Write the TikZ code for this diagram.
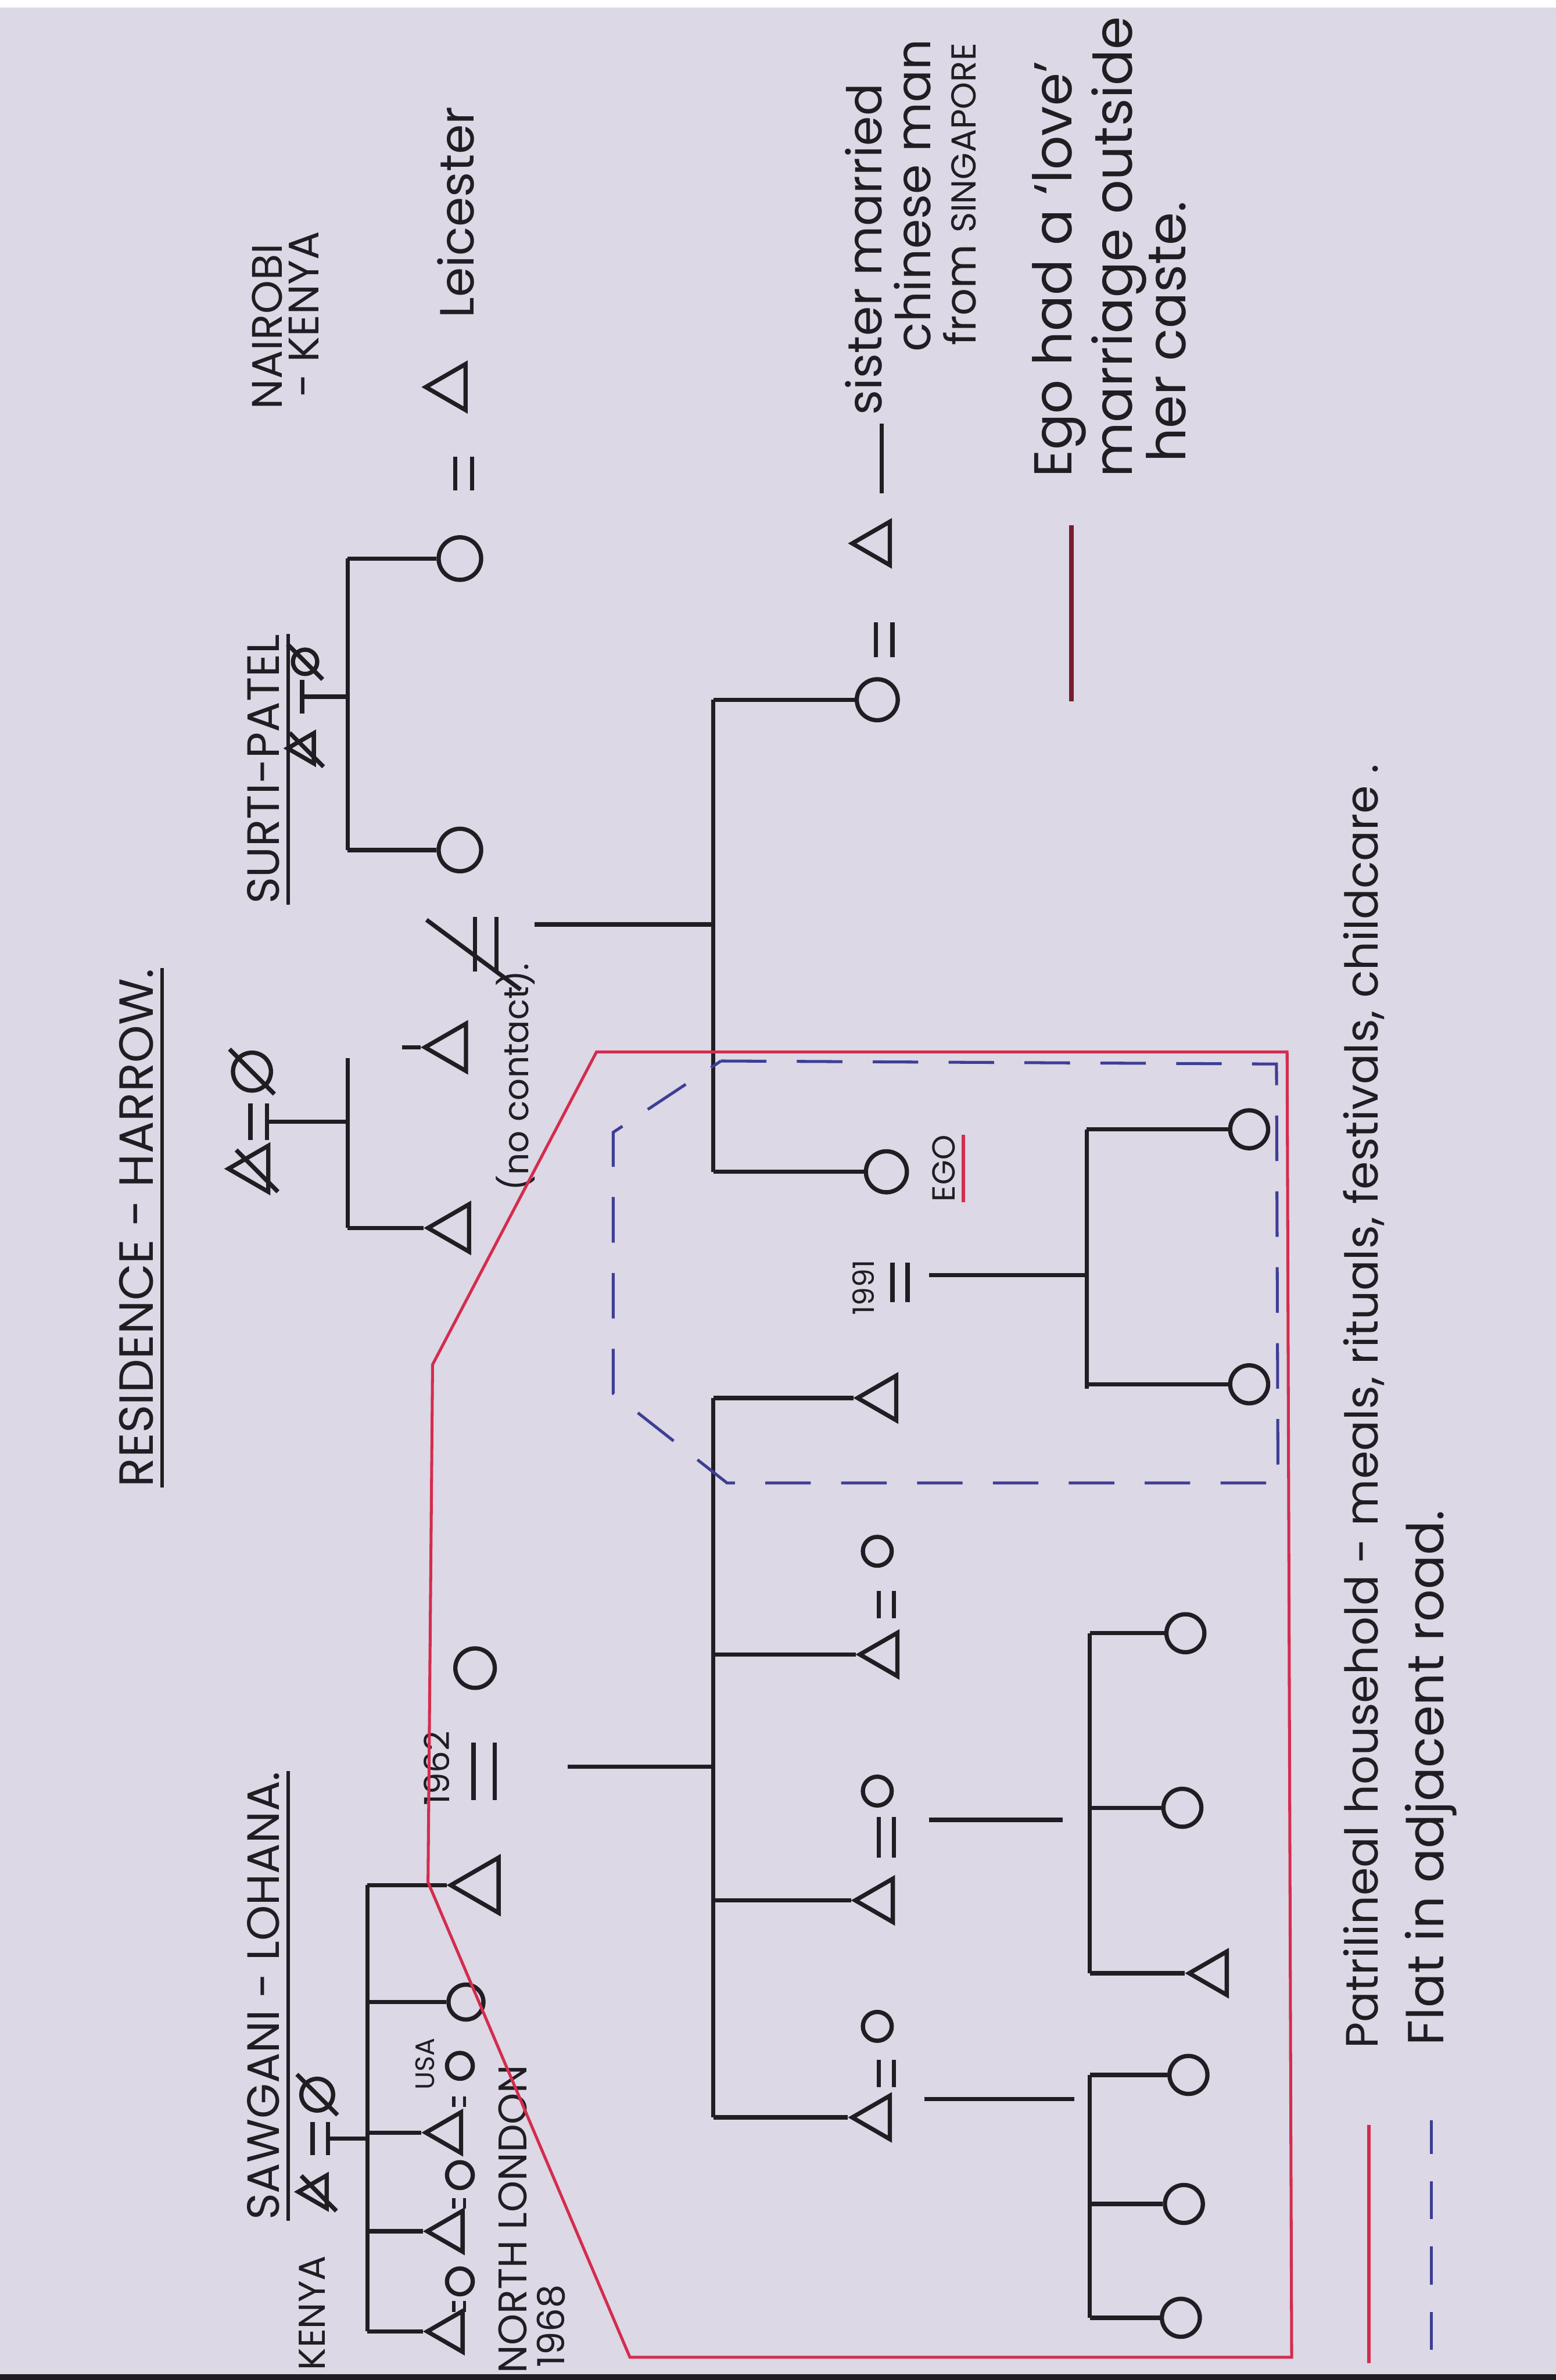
\documentclass[tikz,border=0pt]{standalone}
\usepackage{fontspec}
\setmainfont{Poppins}
\usetikzlibrary{shapes.geometric}

\definecolor{paper}{RGB}{220,216,229}
\definecolor{inkc}{RGB}{32,30,34}
\definecolor{redc}{RGB}{212,44,78}
\definecolor{bluec}{RGB}{62,62,150}
\definecolor{maroonc}{RGB}{120,28,44}

\begin{document}
\begin{tikzpicture}[
    x=0.02cm, y=-0.02cm,
    ink/.style={draw=inkc, line width=1.6pt},
    man/.style={
        regular polygon, regular polygon sides=3,
        draw=inkc, line width=1.6pt, inner sep=0,
        minimum size=#1, rotate=90
    },
    man/.default=0.7cm,
    woman/.style={
        circle, draw=inkc, line width=1.6pt, inner sep=0,
        minimum size=#1, rotate=90
    },
    woman/.default=0.52cm,
    dead/.style={ink, shorten <=-4pt, shorten >=-4pt},
    hand/.style={
        rotate=90, anchor=base west, inner sep=0, text=inkc,
        font=\fontsize{#1}{#1}\selectfont
    },
    hand/.default=16pt,
    house/.style={draw=redc, line width=1.1pt},
    flat/.style={draw=bluec, line width=1.1pt, dash pattern=on 0.6cm off 0.4cm}
]

% paper
\fill[paper] (0,0) rectangle (1025,1568);
\fill[white] (0,0) rectangle (1025,5);
\fill[inkc] (0,1564) rectangle (1025,1568);
\useasboundingbox (0,0) rectangle (1025,1568);

% title
\node[hand=18pt] (title) at (101,980) {RESIDENCE - HARROW.};
\draw[ink, line width=1.3pt] ([xshift=3pt]title.south west) -- ([xshift=3pt]title.south east);

% Sawgani - Lohana
\node[hand=17pt] (sawgani) at (184,1463) {SAWGANI - LOHANA.};
\draw[ink, line width=1.3pt] ([xshift=3pt]sawgani.south west) -- ([xshift=3pt]sawgani.south east);
\node[hand=14pt] (kenyaA) at (214,1562) {KENYA};
\node[man=0.5cm] (sawM) at (209,1444) {};
\node[woman=0.42cm] (sawF) at (209,1380) {};
\draw[dead] (sawM.north east) -- (sawM.south west);
\draw[dead] (sawF.north east) -- (sawF.south west);
\draw[ink] (206,1398) -- (206,1420) (216,1398) -- (216,1420);
\coordinate (sawD) at (216,1409);
\coordinate (sawTop) at (242,1242);
\coordinate (sawBot) at (242,1536);
\draw[ink] (sawD) -- (sawD -| sawTop);
\draw[ink] (sawTop) -- (sawBot);

\node[man=0.84cm] (dad) at (318,1242) {};
\node[woman=0.46cm] (aunt) at (307,1319) {};
\node[man=0.62cm] (uncleA) at (296,1405) {};
\node[woman=0.34cm] (auntA) at (303,1361) {};
\node[man=0.62cm] (uncleB) at (297,1470) {};
\node[woman=0.34cm] (auntB) at (303,1433) {};
\node[man=0.62cm] (uncleC) at (297,1536) {};
\node[woman=0.34cm] (auntC) at (303,1503) {};
\draw[ink] (sawTop) -- (dad.north);
\draw[ink] (aunt.north -| sawTop) -- (aunt.north);
\draw[ink] (uncleA.north -| sawTop) -- (uncleA.north);
\draw[ink] (uncleB.north -| sawTop) -- (uncleB.north);
\draw[ink] (sawBot) -- (uncleC.north);
\draw[ink, line width=1.2pt] (299,1381) -- (299,1388) (306,1381) -- (306,1388);
\draw[ink, line width=1.2pt] (299,1448) -- (299,1455) (306,1448) -- (306,1455);
\draw[ink, line width=1.2pt] (299,1516) -- (299,1523) (306,1516) -- (306,1523);
\node[hand=10pt] (usa) at (286,1377) {USA};
\node[hand=15pt] (nlon) at (347,1564) {NORTH LONDON};
\node[hand=14pt] (y1968) at (372,1560) {1968};

% 1962 marriage
\node[woman=0.52cm] (mom) at (313,1099) {};
\draw[ink] (312,1148) -- (312,1186) (326,1148) -- (326,1186);
\node[hand=13pt] (y1962) at (296,1190) {1962};

% Surti - Patel
\node[hand=16pt] (nairobi) at (186,270) {NAIROBI};
\node[hand=16pt] (kenyaB) at (210,262) {- KENYA};
\node[hand=17pt] (surti) at (184,596) {SURTI-PATEL};
\draw[ink, line width=1.3pt] ([xshift=3pt]surti.south west) -- ([xshift=3pt]surti.south east);
\node[woman=0.32cm] (surF) at (201,436) {};
\node[man=0.46cm] (surM) at (201,493) {};
\draw[dead] (surF.north east) -- (surF.south west);
\draw[dead] (surM.north east) -- (surM.south west);
\draw[ink] (199,448) -- (199,470);
\coordinate (surD) at (199,459);
\coordinate (surTop) at (229,368);
\coordinate (surBot) at (229,560);
\draw[ink] (surD) -- (surD -| surTop);
\draw[ink] (surTop) -- (surBot);
\node[woman=0.56cm] (auntL) at (303,368) {};
\node[woman=0.56cm] (mum) at (303,560) {};
\draw[ink] (surTop) -- (auntL.north);
\draw[ink] (surBot) -- (mum.north);
\draw[ink] (300,301) -- (300,323) (311,301) -- (311,323);
\node[man=0.7cm] (uncleL) at (298,255) {};
\node[hand=18pt] (leic) at (312,210) {Leicester};

% father's side
\node[woman=0.5cm] (gmF) at (166,706) {};
\node[man=0.7cm] (gmM) at (168,770) {};
\draw[dead] (gmF.north east) -- (gmF.south west);
\draw[dead] (gmM.north east) -- (gmM.south west);
\draw[ink] (165,727) -- (165,751) (176,727) -- (176,751);
\coordinate (gmD) at (176,739);
\coordinate (gmTop) at (229,697);
\coordinate (gmBot) at (229,809);
\draw[ink] (gmD) -- (gmD -| gmTop);
\draw[ink] (gmTop) -- (gmBot);
\node[man=0.72cm] (fUncle) at (300,809) {};
\draw[ink] (gmBot) -- (fUncle.north);
\node[man=0.72cm] (father) at (298,690) {};
\coordinate (fatherS) at (265,690);
\draw[ink] (fatherS) -- (father.north);
\node[hand=13pt] (nocon) at (348,785) {(no contact).};
\draw[ink] (313,604) -- (313,640) (327,604) -- (327,640);
\draw[ink] (281,606) -- (343,652);

% Ego and sister
\coordinate (parD) at (352,609);
\coordinate (egoTop) at (470,461);
\coordinate (egoBot) at (470,772);
\draw[ink] (parD) -- (parD -| egoTop);
\draw[ink] (egoTop) -- (egoBot);
\node[woman=0.54cm] (sister) at (578,461) {};
\node[woman=0.54cm] (ego) at (584,772) {};
\draw[ink] (egoTop) -- (sister.north);
\draw[ink] (egoBot) -- (ego.north);
\draw[ink] (577,410) -- (577,433) (588,410) -- (588,433);
\node[man=0.66cm] (bil) at (578,358) {};
\draw[ink] (581,279) -- (581,325);
\node[hand=18pt] (sis1) at (581,274) {sister married};
\node[hand=18pt] (sis2) at (613,232) {chinese man};
\node[hand=16pt] (sis3) at (643,228) {from {\fontsize{13pt}{13pt}\selectfont SINGAPORE}};
\node[hand=12pt] (egoL) at (629,792) {EGO};
\draw[redc, line width=1.3pt] ([xshift=3pt]egoL.south west) -- ([xshift=3pt]egoL.south east);

% Ego's marriage
\draw[ink] (588,832) -- (588,858) (598,832) -- (598,858);
\node[hand=11pt] (y1991) at (576,867) {1991};
\node[man=0.68cm] (husb) at (582,921) {};
\coordinate (egoD) at (612,840);
\coordinate (kidTop) at (716,744);
\coordinate (kidBot) at (716,915);
\draw[ink] (egoD) -- (egoD -| kidTop);
\draw[ink] (kidTop) -- (kidBot);
\node[woman=0.5cm] (kidA) at (823,744) {};
\node[woman=0.5cm] (kidB) at (823,912) {};
\draw[ink] (kidTop) -- (kidA.north);
\draw[ink] (kidB.north -| kidTop) -- (kidB.north);

% husband's siblings
\coordinate (sibTop) at (470,921);
\coordinate (sibBot) at (470,1395);
\coordinate (dadD) at (374,1164);
\draw[ink] (sibTop) -- (sibBot);
\draw[ink] (sibTop) -- (husb.north);
\draw[ink] (dadD) -- (dadD -| sibTop);
\node[man=0.66cm] (broA) at (583,1090) {};
\node[woman=0.38cm] (wifA) at (578,1022) {};
\node[man=0.66cm] (broB) at (580,1252) {};
\node[woman=0.38cm] (wifB) at (578,1180) {};
\node[man=0.66cm] (broC) at (578,1395) {};
\node[woman=0.38cm] (wifC) at (578,1335) {};
\draw[ink] (broA.north -| sibTop) -- (broA.north);
\draw[ink] (broB.north -| sibTop) -- (broB.north);
\draw[ink] (sibBot) -- (broC.north);
\draw[ink] (579,1048) -- (579,1066) (589,1048) -- (589,1066);
\draw[ink] (579,1197) -- (579,1224) (589,1197) -- (589,1224);
\draw[ink] (579,1357) -- (579,1375) (589,1357) -- (589,1375);
\coordinate (broBD) at (612,1199);
\coordinate (broBE) at (700,1199);
\coordinate (broCD) at (609,1383);
\coordinate (broCE) at (708,1383);
\draw[ink] (broBD) -- (broBE);
\draw[ink] (broCD) -- (broCE);

% nephews and nieces
\coordinate (nTopA) at (718,1076);
\coordinate (nBotA) at (718,1300);
\draw[ink] (nTopA) -- (nBotA);
\node[woman=0.5cm] (nA1) at (781,1076) {};
\node[woman=0.5cm] (nA2) at (779,1191) {};
\node[man=0.66cm] (nA3) at (800,1300) {};
\draw[ink] (nTopA) -- (nA1.north);
\draw[ink] (nA2.north -| nTopA) -- (nA2.north);
\draw[ink] (nBotA) -- (nA3.north);
\coordinate (nTopB) at (718,1367);
\coordinate (nBotB) at (718,1527);
\draw[ink] (nTopB) -- (nBotB);
\node[woman=0.5cm] (nB1) at (783,1367) {};
\node[woman=0.5cm] (nB2) at (780,1452) {};
\node[woman=0.5cm] (nB3) at (778,1527) {};
\draw[ink] (nTopB) -- (nB1.north);
\draw[ink] (nB2.north -| nTopB) -- (nB2.north);
\draw[ink] (nBotB) -- (nB3.north);

% note on Ego
\draw[maroonc, line width=1.8pt] (706,462) -- (706,346);
\node[hand=20pt] (note1) at (706,315) {Ego had a `love'};
\node[hand=20pt] (note2) at (746,315) {marriage outside};
\node[hand=20pt] (note3) at (781,305) {her caste.};

% households
\draw[house] (393,693) -- (285,899) -- (282,1240) -- (415,1553)
    -- (851,1553) -- (848,693) -- cycle;
\draw[flat] (475,699) -- (841,701) -- (842,977) -- (479,977)
    -- (404,918) -- (404,746) -- cycle;

% legend
\coordinate (lgR1) at (902,1557);
\coordinate (lgR2) at (902,1400);
\draw[house, line width=1.4pt] (lgR1) -- (lgR2);
\node[hand=17pt] (lgRt) at (908,1350) {Patrilineal household - meals, rituals, festivals, childcare .};
\coordinate (lgB1) at (943,1548);
\coordinate (lgB2) at (943,1397);
\draw[flat, dash pattern=on 0.5cm off 0.36cm] (lgB1) -- (lgB2);
\node[hand=19pt] (lgBt) at (951,1348) {Flat in adjacent road.};

\end{tikzpicture}
\end{document}
